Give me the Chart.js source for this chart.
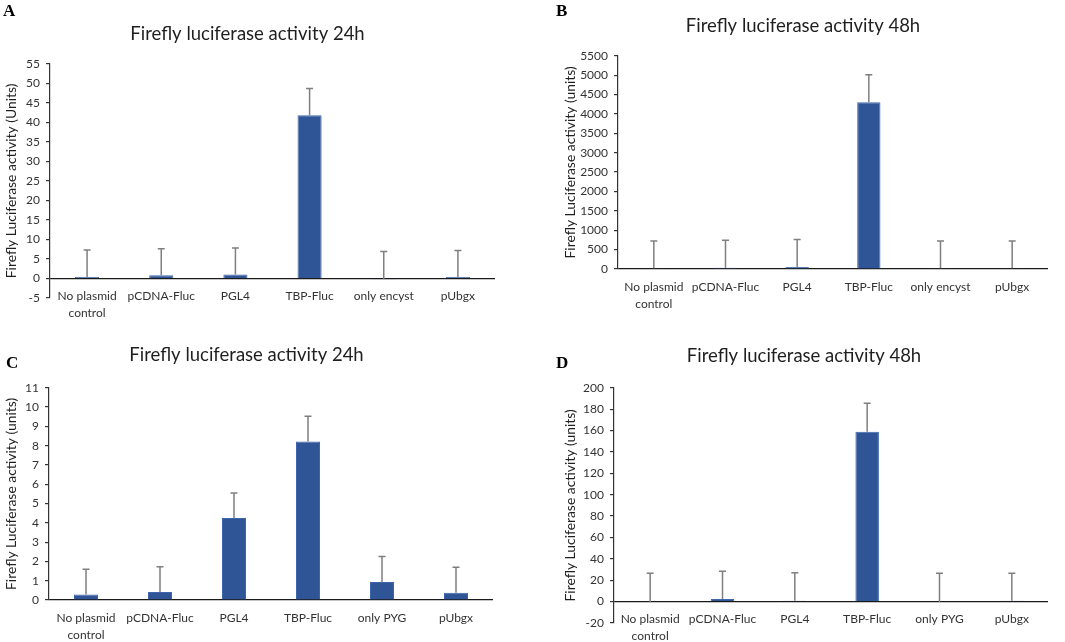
<!DOCTYPE html>
<html><head><meta charset="utf-8">
<script src="https://cdn.jsdelivr.net/npm/chart.js@4"></script>
<style>
html,body{margin:0;padding:0;background:#fff;}
#wrap{position:relative;width:1065px;height:642px;overflow:hidden;background:#fff;}
.cv{position:absolute;}
.lbl{position:absolute;font-family:"Liberation Serif","DejaVu Serif",serif;font-weight:bold;font-size:17px;color:#000;line-height:17px;}
</style></head><body>
<div id="wrap">
  <canvas id="cA" class="cv" style="left:0px;top:0px" width="530" height="320"></canvas>
  <canvas id="cB" class="cv" style="left:558px;top:0px" width="507" height="320"></canvas>
  <canvas id="cC" class="cv" style="left:0px;top:320px" width="530" height="322"></canvas>
  <canvas id="cD" class="cv" style="left:560px;top:320px" width="505" height="322"></canvas>
  <div class="lbl" style="left:3px;top:2px">A</div>
  <div class="lbl" style="left:556px;top:2px">B</div>
  <div class="lbl" style="left:6px;top:354px">C</div>
  <div class="lbl" style="left:556px;top:354px">D</div>
</div>
<script>
// ---- data ----
const categoriesTop = [['No plasmid','control'],'pCDNA-Fluc','PGL4','TBP-Fluc','only encyst','pUbgx'];
const categoriesBottom = [['No plasmid','control'],'pCDNA-Fluc','PGL4','TBP-Fluc','only PYG','pUbgx'];

const valuesA = [0.4, 0.8, 1.0, 41.8, -0.2, 0.4];
const errorsA = [6.9, 6.8, 6.8, 6.9, 7.1, 6.8];
const valuesB = [20, 30, 50, 4300, 20, 20];
const errorsB = [700, 710, 710, 710, 700, 700];
const valuesC = [0.28, 0.42, 4.25, 8.22, 0.93, 0.38];
const errorsC = [1.32, 1.31, 1.30, 1.30, 1.32, 1.32];
const valuesD = [-0.5, 2.5, 0.8, 159, -0.5, 0.8];
const errorsD = [27, 26, 26.2, 26.5, 27, 25.7];

// y tick ranges: [min, max, step]
const ticksA = [-5, 55, 5];
const ticksB = [0, 5500, 500];
const ticksC = [0, 11, 1];
const ticksD = [-20, 200, 20];

const titlesChart = ['Firefly luciferase activity 24h','Firefly luciferase activity 48h','Firefly luciferase activity 24h','Firefly luciferase activity 48h'];
const titlesY = ['Firefly Luciferase activity (Units)','Firefly Luciferase activity (units)','Firefly Luciferase activity (units)','Firefly Luciferase activity (units)'];

// ---- rendering ----
const FONT = 'Lato';
const errorBarPlugin = {
  id: 'errorBars',
  afterDatasetsDraw(chart, args, opts) {
    const meta = chart.getDatasetMeta(0);
    const ys = chart.scales.y;
    const vals = chart.data.datasets[0].data;
    const errs = opts.errors || [];
    const ctx = chart.ctx;
    ctx.save();
    ctx.strokeStyle = '#7f7f7f';
    ctx.lineWidth = 1.5;
    meta.data.forEach((bar, i) => {
      const x = bar.x;
      const y0 = ys.getPixelForValue(vals[i]);
      const y1 = ys.getPixelForValue(vals[i] + errs[i]);
      ctx.beginPath();
      ctx.moveTo(x, y0); ctx.lineTo(x, y1);
      ctx.moveTo(x - 3.5, y1); ctx.lineTo(x + 3.5, y1);
      ctx.stroke();
    });
    ctx.restore();
  }
};

function makeChart(id, cats, vals, errs, tk, title, ytitle, L) {
  new Chart(document.getElementById(id), {
    type: 'bar',
    data: {
      labels: cats,
      datasets: [{
        data: vals,
        backgroundColor: '#2F5597',
        borderColor: '#3d66ad',
        borderWidth: 1,
        barPercentage: 0.65,
        categoryPercentage: 0.5
      }]
    },
    plugins: [errorBarPlugin],
    options: {
      responsive: false,
      animation: false,
      layout: { padding: { left: 0, right: L.r, top: 0, bottom: 0 } },
      plugins: {
        legend: { display: false },
        tooltip: { enabled: false },
        title: {
          display: true, text: title, color: '#1f1f1f',
          font: { family: FONT, size: 18.5, weight: 'normal', lineHeight: 1.2 },
          padding: { top: L.tt, bottom: L.tb }
        },
        errorBars: { errors: errs }
      },
      scales: {
        x: {
          ticks: { mirror: true, font: { family: FONT, size: 12, lineHeight: 1.4 }, color: '#333', padding: L.xp, maxRotation: 0, autoSkip: false },
          grid: { display: false, drawTicks: false },
          border: { display: false },
          afterFit: s => { s.height = L.xh; s.paddingLeft = 0; s.paddingRight = 0; }
        },
        y: {
          min: tk[0], max: tk[1],
          ticks: { stepSize: tk[2], font: { family: FONT, size: 12 }, color: '#333', padding: 6, callback: v => String(v) },
          grid: {
            color: c => (c.tick && c.tick.value === 0) ? '#1a1a1a' : 'rgba(0,0,0,0)',
            lineWidth: 1.2, drawTicks: true, tickLength: 4, tickColor: '#333'
          },
          border: { display: true, color: '#333', width: 1.2 },
          title: { display: true, text: ytitle, color: '#1f1f1f', font: { family: FONT, size: 13.9 }, padding: { top: L.yt, bottom: 0 } },
          afterFit: s => { s.width = L.yw; s.paddingTop = 0; s.paddingBottom = 0; }
        }
      }
    }
  });
}

makeChart('cA', categoriesTop, valuesA, errorsA, ticksA, titlesChart[0], titlesY[0], { r: 35, tt: 23, tb: 18.6, xh: 22, xp: -6.4, yw: 50, yt: 3 });
makeChart('cB', categoriesTop, valuesB, errorsB, ticksB, titlesChart[1], titlesY[1], { r: 17, tt: 15, tb: 18.6, xh: 51, xp: -26.4, yw: 60, yt: 4 });
makeChart('cC', categoriesBottom, valuesC, errorsC, ticksC, titlesChart[2], titlesY[2], { r: 37, tt: 24, tb: 21.6, xh: 42, xp: -26.4, yw: 49, yt: 3.5 });
makeChart('cD', categoriesBottom, valuesD, errorsD, ticksD, titlesChart[3], titlesY[3], { r: 17, tt: 25, tb: 20.6, xh: 19, xp: -4.4, yw: 54, yt: 2.5 });
</script>
</body></html>
